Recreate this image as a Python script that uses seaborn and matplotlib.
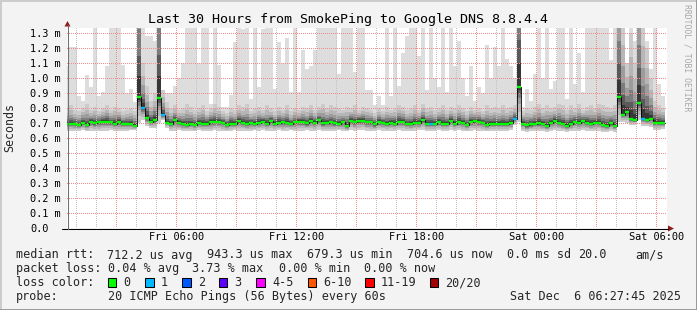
import numpy as np
import pandas as pd
import matplotlib
matplotlib.use("Agg")
import matplotlib.pyplot as plt
import seaborn as sns
from matplotlib.patches import Rectangle, Polygon
from matplotlib.colors import to_rgba

sns.set_theme(style="white")
plt.rcParams['font.family'] = ['DejaVu Sans Mono', 'DejaVu Sans']

# ---------------- data (values in milliseconds) ----------------
title = "Last 30 Hours from SmokePing to Google DNS 8.8.4.4"
bin_start_hour = 0.4      # hours after Fri 00:00 of first 12-minute bin
bin_minutes = 12

median_ms = [
    0.694, 0.694, 0.694, 0.688, 0.703, 0.688, 0.710, 0.699, 0.710, 0.710,
    0.710, 0.705, 0.697, 0.710, 0.694, 0.694, 0.694, 0.683, 0.874, 0.803,
    0.736, 0.710, 0.720, 0.870, 0.754, 0.703, 0.694, 0.720, 0.703, 0.694,
    0.688, 0.694, 0.688, 0.703, 0.697, 0.697, 0.710, 0.710, 0.710, 0.703,
    0.688, 0.697, 0.697, 0.714, 0.703, 0.694, 0.703, 0.694, 0.703, 0.710,
    0.694, 0.714, 0.697, 0.703, 0.705, 0.703, 0.694, 0.705, 0.710, 0.710,
    0.699, 0.714, 0.703, 0.721, 0.699, 0.703, 0.705, 0.699, 0.694, 0.705,
    0.683, 0.717, 0.705, 0.717, 0.717, 0.705, 0.705, 0.692, 0.710, 0.703,
    0.694, 0.703, 0.697, 0.710, 0.710, 0.694, 0.694, 0.703, 0.703, 0.721,
    0.697, 0.697, 0.697, 0.710, 0.697, 0.697, 0.717, 0.694, 0.710, 0.703,
    0.688, 0.710, 0.714, 0.710, 0.703, 0.688, 0.694, 0.694, 0.694, 0.694,
    0.694, 0.703, 0.728, 0.943, 0.697, 0.685, 0.692, 0.694, 0.700, 0.694,
    0.683, 0.703, 0.716, 0.703, 0.694, 0.683, 0.694, 0.708, 0.703, 0.714,
    0.703, 0.694, 0.703, 0.703, 0.688, 0.683, 0.699, 0.683, 0.876, 0.757,
    0.774, 0.730, 0.721, 0.837, 0.730, 0.721, 0.730, 0.703, 0.703, 0.703,
]

low_ms = [
    0.650, 0.648, 0.645, 0.650, 0.652, 0.645, 0.648, 0.650, 0.645, 0.648,
    0.650, 0.652, 0.648, 0.645, 0.650, 0.648, 0.652, 0.655, 0.700, 0.720,
    0.680, 0.665, 0.670, 0.700, 0.720, 0.668, 0.650, 0.648, 0.652, 0.645,
    0.648, 0.650, 0.645, 0.652, 0.648, 0.650, 0.645, 0.652, 0.650, 0.648,
    0.645, 0.650, 0.652, 0.648, 0.650, 0.645, 0.648, 0.652, 0.650, 0.655,
    0.648, 0.650, 0.645, 0.652, 0.648, 0.650, 0.652, 0.645, 0.650, 0.648,
    0.652, 0.650, 0.648, 0.655, 0.650, 0.648, 0.645, 0.650, 0.652, 0.648,
    0.645, 0.655, 0.650, 0.652, 0.655, 0.650, 0.648, 0.645, 0.652, 0.650,
    0.648, 0.650, 0.645, 0.652, 0.650, 0.648, 0.645, 0.650, 0.652, 0.655,
    0.648, 0.650, 0.648, 0.652, 0.645, 0.648, 0.655, 0.650, 0.652, 0.648,
    0.645, 0.650, 0.652, 0.650, 0.648, 0.645, 0.648, 0.650, 0.648, 0.650,
    0.648, 0.652, 0.690, 0.710, 0.650, 0.640, 0.645, 0.648, 0.650, 0.645,
    0.640, 0.648, 0.652, 0.650, 0.645, 0.640, 0.645, 0.650, 0.648, 0.652,
    0.650, 0.645, 0.648, 0.650, 0.642, 0.640, 0.645, 0.640, 0.710, 0.710,
    0.700, 0.690, 0.690, 0.720, 0.680, 0.680, 0.675, 0.655, 0.655, 0.660,
]

# upper edge of the graded smoke (spike bins reach far above the frame)
upper_ms = [
    0.80, 0.82, 0.79, 0.78, 0.80, 0.83, 0.79, 0.81, 0.78, 0.80,
    0.82, 0.79, 0.81, 0.80, 0.78, 0.79, 0.80, 0.78, 2.26, 1.10,
    0.95, 0.85, 0.90, 2.30, 0.92, 0.84, 0.80, 0.82, 0.79, 0.80,
    0.83, 0.81, 0.79, 0.80, 0.82, 0.78, 0.80, 0.83, 0.81, 0.78,
    0.77, 0.80, 0.79, 0.82, 0.81, 0.83, 0.78, 0.80, 0.81, 0.79,
    0.82, 0.80, 0.78, 0.81, 0.79, 0.82, 0.78, 0.80, 0.79, 0.81,
    0.80, 0.82, 0.79, 0.81, 0.83, 0.80, 0.82, 0.81, 0.80, 0.79,
    0.81, 0.80, 0.82, 0.79, 0.81, 0.80, 0.79, 0.77, 0.80, 0.78,
    0.81, 0.79, 0.80, 0.82, 0.81, 0.79, 0.80, 0.82, 0.79, 0.83,
    0.80, 0.81, 0.79, 0.80, 0.82, 0.79, 0.81, 0.80, 0.82, 0.80,
    0.78, 0.81, 0.79, 0.80, 0.78, 0.82, 0.80, 0.81, 0.80, 0.82,
    0.80, 0.81, 0.82, 2.50, 0.78, 0.80, 0.79, 0.81, 0.83, 0.80,
    0.82, 0.80, 0.81, 0.83, 0.82, 0.79, 0.82, 0.80, 0.83, 0.79,
    0.81, 0.82, 0.80, 0.83, 0.82, 0.81, 0.80, 0.82, 2.00, 1.40,
    1.10, 1.30, 1.10, 2.00, 1.40, 1.20, 1.00, 0.85, 0.82, 0.80,
]

max_ms = [
    1.08, 1.21, 1.21, 0.88, 0.85, 1.02, 0.94, 1.40, 0.88, 0.91,
    1.08, 1.40, 1.40, 1.40, 1.09, 0.90, 0.93, 0.84, 1.40, 1.40,
    1.28, 1.28, 1.25, 1.40, 0.92, 0.90, 0.90, 0.95, 1.00, 1.10,
    1.40, 1.40, 1.40, 1.10, 1.40, 1.40, 0.83, 1.40, 1.09, 0.81,
    0.81, 0.89, 1.24, 1.40, 1.33, 1.40, 0.86, 1.40, 0.94, 1.33,
    1.40, 1.40, 0.93, 1.24, 1.10, 1.27, 0.91, 1.40, 0.91, 1.19,
    1.06, 1.08, 1.19, 1.40, 1.40, 1.40, 1.40, 1.40, 1.03, 1.40,
    1.40, 1.40, 1.04, 1.40, 1.40, 0.92, 0.92, 0.82, 0.88, 0.82,
    1.40, 0.88, 1.40, 0.95, 1.17, 1.28, 1.40, 1.40, 1.15, 1.40,
    0.92, 1.40, 1.00, 0.94, 1.40, 0.91, 1.40, 1.08, 1.25, 1.00,
    0.88, 1.08, 0.85, 0.94, 0.90, 1.22, 1.00, 1.21, 1.08, 1.40,
    1.13, 1.08, 1.00, 1.40, 0.81, 0.93, 0.85, 1.03, 1.40, 1.00,
    1.40, 0.93, 0.98, 1.40, 1.40, 0.86, 1.40, 0.96, 1.17, 0.91,
    1.40, 1.40, 1.40, 1.40, 1.40, 1.40, 1.12, 1.40, 1.40, 1.40,
    1.08, 1.40, 1.25, 1.40, 1.40, 1.25, 1.06, 1.40, 0.96, 0.88,
]

single_loss_bins = [19, 24, 91, 112, 144]   # bins with 1 of 20 pings lost

y_ticks = [0.0, 0.1, 0.2, 0.3, 0.4, 0.5, 0.6, 0.7, 0.8, 0.9, 1.0, 1.1, 1.2, 1.3]
y_labels = ["0.0", "0.1 m", "0.2 m", "0.3 m", "0.4 m", "0.5 m", "0.6 m", "0.7 m",
            "0.8 m", "0.9 m", "1.0 m", "1.1 m", "1.2 m", "1.3 m"]
x_label_hours = [6, 12, 18, 24, 30]
x_labels = ["Fri 06:00", "Fri 12:00", "Fri 18:00", "Sat 00:00", "Sat 06:00"]

loss_labels = ["0", "1", "2", "3", "4-5", "6-10", "11-19", "20/20"]
loss_colors = ["#00ff00", "#00b8ff", "#0059ff", "#5e00ff", "#ff00ff",
               "#ff5500", "#ff0000", "#a10000"]

rtt_stats = ["712.2 us avg", "943.3 us max", "679.3 us min", "704.6 us now",
             "0.0 ms sd", "20.0", "am/s"]
loss_stats = ["0.04 % avg", "3.73 % max", "0.00 % min", "0.00 % now"]
probe_text = "20 ICMP Echo Pings (56 Bytes) every 60s"
stamp_text = "Sat Dec  6 06:27:45 2025"

# ---------------- figure ----------------
W, H = 697, 310
L, R, T, B = 67, 667, 28, 228
XMIN, XMAX, YMAX = 0.515, 30.515, 1.335
fig = plt.figure(figsize=(W / 100, H / 100), dpi=100)
fig.patch.set_facecolor("#f3f3f3")

ax = fig.add_axes([L / W, (H - B) / H, (R - L) / W, (B - T) / H])
ax.set_facecolor("white")

n = len(median_ms)
edges = bin_start_hour + np.arange(n + 1) * bin_minutes / 60.0
med = np.asarray(median_ms, float)
lo = np.asarray(low_ms, float)
up = np.asarray(upper_ms, float)
mx = np.asarray(max_ms, float)


def ext(a):
    a = np.asarray(a, float)
    return np.append(a, a[-1])


# smoke
ax.fill_between(edges, ext(lo), ext(mx), step="post", color="#dddddd", lw=0, zorder=1)
scales = [1.0, 0.72, 0.5, 0.33, 0.2, 0.1]
shades = ["#cbcbcb", "#b6b6b6", "#9c9c9c", "#7c7c7c", "#5a5a5a", "#363636"]
for s, c in zip(scales, shades):
    ax.fill_between(edges, ext(med - (med - lo) * s), ext(med + (up - med) * s),
                    step="post", color=c, lw=0, zorder=1)

# dotted grid as a pixel-exact raster (1 px on / 1 px off)
pw, ph = R - L, B - T
grid = np.zeros((ph, pw, 4))
red = to_rgba("#f28c8c")
grey = to_rgba("#c2c2c2")
for h in range(1, 31):
    c = int(np.floor((h - XMIN) / (XMAX - XMIN) * pw))
    if 0 <= c < pw and h % 3 != 0:
        grid[0::2, c] = grey
for h in range(3, 31, 3):
    c = int(np.floor((h - XMIN) / (XMAX - XMIN) * pw))
    if 0 <= c < pw:
        grid[0::2, c] = red
for v in y_ticks[1:]:
    r = int(np.floor(ph - v / YMAX * ph))
    grid[r, 0::2] = red
ax.imshow(grid, extent=(XMIN, XMAX, 0, YMAX), origin="upper", aspect="auto",
          interpolation="nearest", zorder=2)

# median line
df = pd.DataFrame({"t": edges, "rtt": ext(med)})
sns.lineplot(data=df, x="t", y="rtt", drawstyle="steps-post", color="black",
             lw=0.6, ax=ax, zorder=3, legend=False)
loss_per_bin = np.zeros(n, int)
loss_per_bin[single_loss_bins] = 1
seg_colors = [loss_colors[v] for v in loss_per_bin]
ax.hlines(med, edges[:-1], edges[1:], colors=seg_colors, lw=1.7, zorder=4)

ax.set_xlim(XMIN, XMAX)
ax.set_ylim(0, YMAX)
ax.set_xlabel("")
ax.set_ylabel("")
ax.grid(False)
for sp in ax.spines.values():
    sp.set_visible(False)

ax.set_xticks(np.arange(3, 31, 3))
ax.set_xticks(np.arange(1, 31, 1), minor=True)
ax.set_xticklabels([x_labels[x_label_hours.index(h)] if h in x_label_hours else ""
                    for h in range(3, 31, 3)])
ax.set_yticks(y_ticks)
ax.set_yticklabels(y_labels)

ax.tick_params(axis="x", which="major", direction="out", length=2.2, width=0.72,
               color="#e07070", pad=0.5, labelsize=7.4, labelcolor="black")
ax.tick_params(axis="x", which="minor", direction="out", length=1.5, width=0.72,
               color="#b0b0b0")
ax.tick_params(axis="y", which="major", direction="out", length=2.9, width=0.72,
               color="black", pad=23.8, labelsize=7.4, labelcolor="black")
for t in ax.get_yticklabels():
    t.set_ha("left")

# ---------------- overlay (pixel coordinates) ----------------
ov = fig.add_axes([0, 0, 1, 1], zorder=10)
ov.set_xlim(0, W)
ov.set_ylim(H, 0)
ov.axis("off")
ov.patch.set_alpha(0)

# border
ov.plot([0, W], [0.5, 0.5], color="#cbcbcb", lw=1.4)
ov.plot([0.5, 0.5], [0, H], color="#cbcbcb", lw=1.4)
ov.plot([0, W], [H - 0.5, H - 0.5], color="#999999", lw=1.4)
ov.plot([W - 0.5, W - 0.5], [0, H], color="#999999", lw=1.4)

# axes lines and arrows
ov.plot([62, 668], [228.5, 228.5], color="black", lw=0.75)
ov.plot([67.5, 67.5], [228.5, 25], color="#707070", lw=0.75)
ov.add_patch(Polygon([(64.5, 26.5), (70.5, 26.5), (67.5, 21)], closed=True,
                     color="#8e1b1b", lw=0))
ov.add_patch(Polygon([(668, 225.5), (668, 231.5), (674, 228.5)], closed=True,
                     color="#8e1b1b", lw=0))

# texts
ov.text(348, 23.5, title, ha="center", va="baseline", fontsize=9.6, color="black")
ov.text(10, 128, "Seconds", rotation=90, ha="center", va="center", fontsize=8.4)
ov.text(687.5, 4, "RRDTOOL / TOBI OETIKER", rotation=270, ha="center", va="top",
        fontsize=5.9, color="#a8a8a8")

fs = 8.43
rows = [258.5, 272.3, 286.2, 300.2]
ov.text(16, rows[0], "median rtt:", fontsize=fs, va="baseline")
for xx, s in zip([107, 207, 307, 407, 507, 578, 635.5], rtt_stats):
    ov.text(xx, rows[0], s, fontsize=fs, va="baseline")
ov.text(16, rows[1], "packet loss:", fontsize=fs, va="baseline")
for xx, s in zip([107.5, 192, 279, 364.4], loss_stats):
    ov.text(xx, rows[1], s, fontsize=fs, va="baseline")
ov.text(16, rows[2], "loss color:", fontsize=fs, va="baseline")
box_x = [108, 145.3, 182.2, 219, 256.4, 307.6, 365.3, 430]
for bx, lab, col in zip(box_x, loss_labels, loss_colors):
    ov.add_patch(Rectangle((bx, 277.8), 8.3, 8.8, facecolor=col, edgecolor="black", lw=0.75))
    ov.text(bx + 15.6, rows[2], lab, fontsize=fs, va="baseline")
ov.text(16, rows[3], "probe:", fontsize=fs, va="baseline")
ov.text(107.5, rows[3], probe_text, fontsize=fs, va="baseline")
ov.text(681, rows[3], stamp_text, fontsize=fs, va="baseline", ha="right")

fig.savefig("out.png", dpi=100, facecolor=fig.get_facecolor())
